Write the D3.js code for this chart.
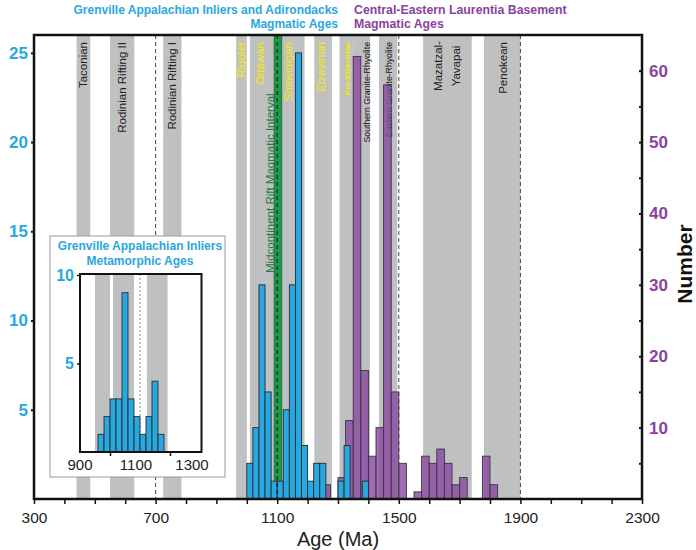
<!DOCTYPE html>
<html>
<head>
<meta charset="utf-8">
<script src="https://d3js.org/d3.v7.min.js"></script>
<style>
body { margin: 0; background: #fff; }
svg { font-family: Arial, "Liberation Sans", Helvetica, sans-serif; }
</style>
</head>
<body>
<div id="chart"></div>
<script>
var width = 696, height = 550;
var margin = {left: 34, top: 35, right: 54, bottom: 51};

// x axis labels (Ma)
var ageTicks = [300, 700, 1100, 1500, 1900, 2300];

// Grenville Appalachian Inliers and Adirondacks, 20 Ma bins (left axis)
var blueAge   = [1000, 1020, 1040, 1060, 1080, 1100, 1120, 1140, 1160, 1180, 1200, 1220, 1240, 1300, 1320, 1380];
var blueCount = [2, 4, 12, 6, 1, 1, 5, 12, 25, 3, 1, 2, 2, 1, 3, 1];

// Central-Eastern Laurentia basement, 25 Ma bins (right axis)
var purpleAge   = [1250, 1300, 1325, 1350, 1375, 1400, 1425, 1450, 1475, 1500, 1550, 1575, 1600, 1625, 1650, 1675, 1700, 1775, 1800];
var purpleCount = [2, 3, 11, 62, 18, 6, 10, 58, 15, 5, 1, 6, 5, 7, 5, 2, 3, 6, 2];

// inset: metamorphic ages, 20 Ma bins
var insetAge   = [960, 980, 1000, 1020, 1040, 1060, 1080, 1100, 1120, 1140, 1160];
var insetCount = [1, 2, 3, 3, 9, 3, 2, 1, 2, 4, 1];

// gray event bands (Ma)
var bandStart = [440, 550, 725, 965, 1010, 1115, 1222, 1305, 1350, 1435, 1580, 1780];
var bandEnd   = [485, 630, 785, 1000, 1090, 1190, 1280, 1350, 1405, 1495, 1740, 1900];
var insetBandStart = [950, 1010, 1123];
var insetBandEnd   = [1000, 1080, 1192];

// midcontinent rift interval
var mcrStart = 1090, mcrEnd = 1115, mcrMid = 1100;
var dashAges = [700, 1500, 1900];

// band labels and where they sit (Ma)
var labelText = ["Taconian", "Rodinian Rifting II", "Rodinian Rifting I", "Rigolet", "Ottawan",
                 "Shawinigan", "Elzevirian", "Pre-Elzevirian", "Southern Granite-Rhyolite",
                 "Eastern Granite-Rhyolite", "Mazatzal-", "Yavapai", "Penokean"];
var labelAge  = [461, 591, 753, 980, 1042, 1137, 1244, 1329, 1395, 1466, 1628, 1689, 1842];

var blue = "#27a8e0", purple = "#8a4ca3", yellow = "#f7ea00";

var x = d3.scaleLinear().domain([300, 2300]).range([margin.left, width - margin.right]);
var yL = d3.scaleLinear().domain([0, 26]).range([height - margin.bottom, margin.top]);
var yR = d3.scaleLinear().domain([0, 65]).range([height - margin.bottom, margin.top]);

var svg = d3.select("#chart").append("svg")
    .attr("width", width)
    .attr("height", height);

var x0 = x.range()[0], x1 = x.range()[1], yb = yL.range()[0], yt = yL.range()[1];

// bands
svg.selectAll("rect.band")
    .data(bandStart)
    .enter().append("rect")
    .attr("class", "band")
    .attr("x", function(d) { return x(d); })
    .attr("width", function(d, i) { return x(bandEnd[i]) - x(d); })
    .attr("y", yt)
    .attr("height", yb - yt)
    .style("fill", "#bfc0c2");

svg.append("rect")
    .attr("x", x(mcrStart))
    .attr("width", x(mcrEnd) - x(mcrStart))
    .attr("y", yt)
    .attr("height", yb - yt)
    .style("fill", "#1f9a4a")
    .style("stroke", "#0d5e2a")
    .style("stroke-width", 0.8);

// band labels (rotated)
var labelStyle = {
    "Rigolet": {fill: yellow, size: 11.5},
    "Ottawan": {fill: yellow, size: 11.5},
    "Shawinigan": {fill: yellow, size: 11.5},
    "Elzevirian": {fill: yellow, size: 11.5},
    "Pre-Elzevirian": {fill: yellow, size: 8, weight: "bold"},
    "Southern Granite-Rhyolite": {fill: "#111", size: 8.7},
    "Eastern Granite-Rhyolite": {fill: "#111", size: 8.7},
    "Mazatzal-": {fill: "#222", size: 11.5, anchor: "middle", top: 66},
    "Yavapai": {fill: "#222", size: 11.5, anchor: "middle", top: 66}
};

svg.selectAll("text.band")
    .data(labelText)
    .enter().append("text")
    .attr("class", "band")
    .attr("transform", function(d, i) {
        var s = labelStyle[d] || {};
        return "translate(" + x(labelAge[i]) + "," + (s.top || 42) + ") rotate(-90)";
    })
    .attr("dy", "0.35em")
    .attr("text-anchor", function(d) { return (labelStyle[d] || {}).anchor || "end"; })
    .style("font-size", function(d) { return ((labelStyle[d] || {}).size || 11.5) + "px"; })
    .style("font-weight", function(d) { return (labelStyle[d] || {}).weight || "normal"; })
    .style("fill", function(d) { return (labelStyle[d] || {}).fill || "#222"; })
    .text(function(d) { return d; });

svg.append("text")
    .attr("transform", "translate(" + x(1076) + ",273) rotate(-90)")
    .attr("dy", "0.35em")
    .attr("text-anchor", "start")
    .style("font-size", "11.5px")
    .style("fill", "#1c7a3a")
    .text("Midcontinent Rift Magmatic Interval");

// purple bars (semi transparent, right axis)
svg.selectAll("rect.purple")
    .data(purpleAge)
    .enter().append("rect")
    .attr("class", "purple")
    .attr("x", function(d) { return x(d); })
    .attr("width", function(d) { return x(d + 25) - x(d); })
    .attr("y", function(d, i) { return yR(purpleCount[i]); })
    .attr("height", function(d, i) { return yR(0) - yR(purpleCount[i]); })
    .style("fill", purple)
    .style("fill-opacity", 0.82)
    .style("stroke", "#3d3340")
    .style("stroke-width", 0.9);

// blue bars (left axis)
svg.selectAll("rect.blue")
    .data(blueAge)
    .enter().append("rect")
    .attr("class", "blue")
    .attr("x", function(d) { return x(d); })
    .attr("width", function(d) { return x(d + 20) - x(d); })
    .attr("y", function(d, i) { return yL(blueCount[i]); })
    .attr("height", function(d, i) { return yL(0) - yL(blueCount[i]); })
    .style("fill", blue)
    .style("stroke", "#2b2b2b")
    .style("stroke-width", 0.9);

// dashed lines
svg.selectAll("line.dash")
    .data(dashAges)
    .enter().append("line")
    .attr("class", "dash")
    .attr("x1", function(d) { return x(d); })
    .attr("x2", function(d) { return x(d); })
    .attr("y1", yt)
    .attr("y2", yb)
    .style("stroke", "#444")
    .style("stroke-width", 1)
    .style("stroke-dasharray", "4,3");

svg.append("line")
    .attr("x1", x(mcrMid)).attr("x2", x(mcrMid))
    .attr("y1", yt).attr("y2", yb)
    .style("stroke", "#111")
    .style("stroke-width", 1)
    .style("stroke-dasharray", "4,3");

// axes
var xAxis = d3.axisBottom(x)
    .tickValues(d3.range(300, 2301, 100))
    .tickFormat(function(d) { return ageTicks.indexOf(d) >= 0 ? d : ""; })
    .tickSize(5)
    .tickPadding(8);

var gx = svg.append("g")
    .attr("transform", "translate(0," + yb + ")")
    .call(xAxis);
gx.select(".domain").remove();
gx.selectAll("line").style("stroke", "#111").style("stroke-width", 1.5);
gx.selectAll("text").style("font-size", "15.5px").style("fill", "#222");

var gl = svg.append("g")
    .attr("transform", "translate(" + x0 + ",0)")
    .call(d3.axisLeft(yL).tickValues([5, 10, 15, 20, 25]).tickSize(3).tickPadding(3));
gl.select(".domain").remove();
gl.selectAll("line").style("stroke", "#111").style("stroke-width", 2);
gl.selectAll("text").style("font-size", "17px").style("font-weight", "bold").style("fill", blue);

var gr = svg.append("g")
    .attr("transform", "translate(" + x1 + ",0)")
    .call(d3.axisRight(yR).tickValues(d3.range(5, 61, 5))
        .tickFormat(function(d) { return d % 10 === 0 ? d : ""; })
        .tickSizeInner(-3).tickSizeOuter(0).tickPadding(7));
gr.select(".domain").remove();
gr.selectAll("line").style("stroke", "#111").style("stroke-width", 2);
gr.selectAll("text").style("font-size", "17px").style("font-weight", "bold").style("fill", "#8a42a0");

// frame
svg.append("rect")
    .attr("x", x0).attr("y", yt)
    .attr("width", x1 - x0).attr("height", yb - yt)
    .style("fill", "none")
    .style("stroke", "#111")
    .style("stroke-width", 2.5);

svg.append("text")
    .attr("x", (x0 + x1) / 2).attr("y", 546)
    .attr("text-anchor", "middle")
    .style("font-size", "20px")
    .style("fill", "#222")
    .text("Age (Ma)");

svg.append("text")
    .attr("transform", "translate(685,264) rotate(-90)")
    .attr("dy", "0.35em")
    .attr("text-anchor", "middle")
    .style("font-size", "21px")
    .style("font-weight", "bold")
    .style("fill", "#111")
    .text("Number");

// titles
var t1 = svg.append("text")
    .attr("text-anchor", "end")
    .style("font-size", "12px")
    .style("font-weight", "bold")
    .style("fill", "#2aa7e0");
t1.append("tspan").attr("x", 338).attr("y", 14).text("Grenville Appalachian Inliers and Adirondacks");
t1.append("tspan").attr("x", 338).attr("y", 28).text("Magmatic Ages");

var t2 = svg.append("text")
    .attr("text-anchor", "start")
    .style("font-size", "12.3px")
    .style("font-weight", "bold")
    .style("fill", "#8a42a0");
t2.append("tspan").attr("x", 354).attr("y", 14).text("Central-Eastern Laurentia Basement");
t2.append("tspan").attr("x", 354).attr("y", 28).text("Magmatic Ages");

// inset
var ix = d3.scaleLinear().domain([900, 1305]).range([80, 201.5]);
var iy = d3.scaleLinear().domain([0, 10]).range([452, 275]);

var inset = svg.append("g").attr("class", "inset");

inset.append("rect")
    .attr("x", 50).attr("y", 236)
    .attr("width", 175).attr("height", 241)
    .style("fill", "#fff")
    .style("stroke", "#9a9a9a")
    .style("stroke-width", 1);

var it = inset.append("text")
    .attr("text-anchor", "middle")
    .style("font-size", "12px")
    .style("font-weight", "bold")
    .style("fill", "#2aa7e0");
it.append("tspan").attr("x", 140).attr("y", 250).text("Grenville Appalachian Inliers");
it.append("tspan").attr("x", 140).attr("y", 265).text("Metamorphic Ages");

var ib = iy.range()[0], itop = 274;

inset.selectAll("rect.iband")
    .data(insetBandStart)
    .enter().append("rect")
    .attr("class", "iband")
    .attr("x", function(d) { return ix(d); })
    .attr("width", function(d, i) { return ix(insetBandEnd[i]) - ix(d); })
    .attr("y", itop)
    .attr("height", ib - itop)
    .style("fill", "#bfc0c2");

inset.append("line")
    .attr("x1", ix(1100)).attr("x2", ix(1100))
    .attr("y1", itop).attr("y2", ib)
    .style("stroke", "#888")
    .style("stroke-width", 1)
    .style("stroke-dasharray", "2,2");

inset.selectAll("rect.ibar")
    .data(insetAge)
    .enter().append("rect")
    .attr("class", "ibar")
    .attr("x", function(d) { return ix(d); })
    .attr("width", function(d) { return ix(d + 20) - ix(d); })
    .attr("y", function(d, i) { return iy(insetCount[i]); })
    .attr("height", function(d, i) { return iy(0) - iy(insetCount[i]); })
    .style("fill", blue)
    .style("stroke", "#2b2b2b")
    .style("stroke-width", 0.9);

var igx = inset.append("g")
    .attr("transform", "translate(0," + ib + ")")
    .call(d3.axisBottom(ix).tickValues([1000, 1200]).tickFormat("").tickSize(4));
igx.select(".domain").remove();
igx.selectAll("line").style("stroke", "#111").style("stroke-width", 1.5);

inset.selectAll("text.ilab")
    .data([900, 1100, 1300])
    .enter().append("text")
    .attr("class", "ilab")
    .attr("x", function(d) { return ix(d) - (d - 900) * 0.02; })
    .attr("y", 470)
    .attr("text-anchor", "middle")
    .style("font-size", "15px")
    .style("fill", "#222")
    .text(function(d) { return d; });

var igy = inset.append("g")
    .attr("transform", "translate(" + ix.range()[0] + ",0)")
    .call(d3.axisLeft(iy).tickValues([5, 10]).tickSize(3).tickPadding(3));
igy.select(".domain").remove();
igy.selectAll("line").style("stroke", "#111").style("stroke-width", 1.5);
igy.selectAll("text").style("font-size", "16px").style("font-weight", "bold").style("fill", blue);

inset.append("rect")
    .attr("x", ix.range()[0]).attr("y", itop)
    .attr("width", ix.range()[1] - ix.range()[0]).attr("height", ib - itop)
    .style("fill", "none")
    .style("stroke", "#111")
    .style("stroke-width", 2);
</script>
</body>
</html>
